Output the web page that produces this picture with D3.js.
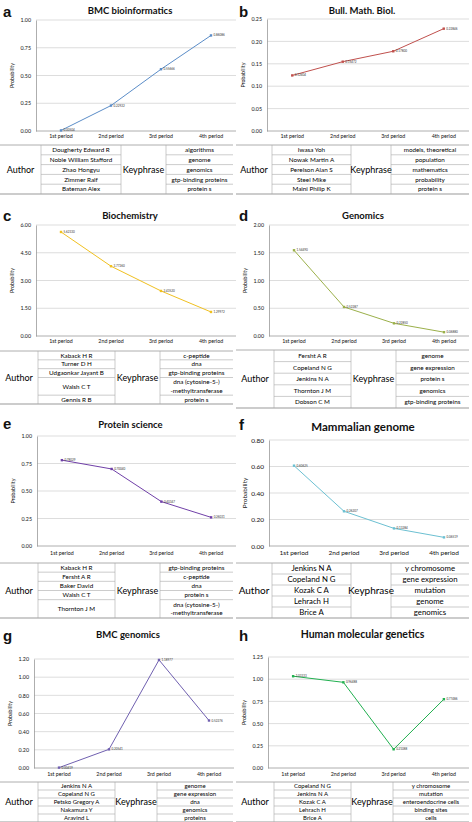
<!DOCTYPE html>
<html><head><meta charset="utf-8">
<script src="https://cdn.jsdelivr.net/npm/d3@7"></script>
<style>body{margin:0;background:#fff}svg{display:block}</style>
</head><body>
<svg id="c" width="472" height="822"></svg>
<script>
const periods = ["1st period","2nd period","3rd period","4th period"];
const titles = ["BMC bioinformatics","Bull. Math. Biol.","Biochemistry","Genomics","Protein science","Mammalian genome","BMC genomics","Human molecular genetics"];
const letters = ["a","b","c","d","e","f","g","h"];

const valuesA = [0.00504, 0.22922, 0.55666, 0.86086];
const valuesB = [0.12404, 0.15472, 0.17800, 0.22846];
const valuesC = [5.62330, 3.77260, 2.43520, 1.29972];
const valuesD = [1.54490, 0.52287, 0.22850, 0.06880];
const valuesE = [0.78029, 0.70040, 0.40347, 0.26031];
const valuesF = [0.60625, 0.26207, 0.13284, 0.06519];
const valuesG = [0.00419, 0.20541, 1.18977, 0.52276];
const valuesH = [1.03333, 0.96488, 0.21088, 0.77486];

const ticksA = [0, 0.25, 0.50, 0.75, 1.00];
const ticksB = [0, 0.05, 0.10, 0.15, 0.20, 0.25];
const ticksC = [0, 1.5, 3.0, 4.5, 6.0];
const ticksD = [0, 0.5, 1.0, 1.5, 2.0];
const ticksE = [0, 0.25, 0.50, 0.75, 1.00];
const ticksF = [0, 0.2, 0.4, 0.6, 0.8];
const ticksG = [0, 0.2, 0.4, 0.6, 0.8, 1.0, 1.2];
const ticksH = [0, 0.25, 0.50, 0.75, 1.00, 1.25];

const authorsA = ["Dougherty Edward R","Noble William Stafford","Zhao Hongyu","Zimmer Ralf","Bateman Alex"];
const keyphrasesA = ["algorithms","genome","genomics","gtp-binding proteins","protein s"];
const authorsB = ["Iwasa Yoh","Nowak Martin A","Perelson Alan S","Steel Mike","Maini Philip K"];
const keyphrasesB = ["models, theoretical","population","mathematics","probability","protein s"];
const authorsC = ["Kaback H R","Turner D H","Udgaonkar Jayant B","Walsh C T","Gennis R B"];
const keyphrasesC = ["c-peptide","dna","gtp-binding proteins","dna (cytosine-5-)\n-methyltransferase","protein s"];
const authorsD = ["Fersht A R","Copeland N G","Jenkins N A","Thornton J M","Dobson C M"];
const keyphrasesD = ["genome","gene expression","protein s","genomics","gtp-binding proteins"];
const authorsE = ["Kaback H R","Fersht A R","Baker David","Walsh C T","Thornton J M"];
const keyphrasesE = ["gtp-binding proteins","c-peptide","dna","protein s","dna (cytosine-5-)\n-methyltransferase"];
const authorsF = ["Jenkins N A","Copeland N G","Kozak C A","Lehrach H","Brice A"];
const keyphrasesF = ["y chromosome","gene expression","mutation","genome","genomics"];
const authorsG = ["Jenkins N A","Copeland N G","Petsko Gregory A","Nakamura Y","Aravind L"];
const keyphrasesG = ["genome","gene expression","dna","genomics","proteins"];
const authorsH = ["Copeland N G","Jenkins N A","Kozak C A","Lehrach H","Brice A"];
const keyphrasesH = ["y chromosome","mutation","enteroendocrine cells","binding sites","cells"];

const panels = [
  {values: valuesA, ticks: ticksA, authors: authorsA, keys: keyphrasesA},
  {values: valuesB, ticks: ticksB, authors: authorsB, keys: keyphrasesB},
  {values: valuesC, ticks: ticksC, authors: authorsC, keys: keyphrasesC},
  {values: valuesD, ticks: ticksD, authors: authorsD, keys: keyphrasesD},
  {values: valuesE, ticks: ticksE, authors: authorsE, keys: keyphrasesE},
  {values: valuesF, ticks: ticksF, authors: authorsF, keys: keyphrasesF},
  {values: valuesG, ticks: ticksG, authors: authorsG, keys: keyphrasesG},
  {values: valuesH, ticks: ticksH, authors: authorsH, keys: keyphrasesH}
];

// layout (absolute page coordinates)
const layout = [
  {x:0,   color:"#5b8dc8", L:36, R:236, top:20,  bot:131, titleY:14,  tSize:9.5, tickSize:5.3, catY:140, tTop:145, tBot:194, cols:[0,41,121,166,233], nSize:6.3, hSize:9,   letterY:17},
  {x:236, color:"#c0504d", L:31, R:233, top:19,  bot:131, titleY:14,  tSize:9.5, tickSize:5.3, catY:140, tTop:145, tBot:194, cols:[0,36,115,155,233], nSize:6.3, hSize:9,   letterY:17},
  {x:0,   color:"#f0c020", L:36, R:236, top:225, bot:336, titleY:219, tSize:9.5, tickSize:5.3, catY:345, tTop:351, tBot:404, cols:[0,38,115,160,233], nSize:6.3, hSize:9,   letterY:221},
  {x:236, color:"#9bb04a", L:33, R:233, top:225, bot:336, titleY:219, tSize:9.5, tickSize:5.3, catY:345, tTop:350, tBot:408, cols:[0,38,115,160,233], nSize:6.3, hSize:9,   letterY:221},
  {x:0,   color:"#7040a8", L:37, R:236, top:436, bot:546, titleY:428, tSize:9.5, tickSize:5.3, catY:557, tTop:563, tBot:618, cols:[0,38,115,160,233], nSize:6.3, hSize:9,   letterY:429},
  {x:236, color:"#6cc0d2", L:33, R:233, top:440, bot:546, titleY:431, tSize:11.5, tickSize:6.5, catY:557, tTop:563, tBot:618, cols:[0,36,115,155,233], nSize:7.8, hSize:10,  letterY:430},
  {x:0,   color:"#7060b0", L:34, R:234, top:659, bot:768, titleY:638, tSize:9.5, tickSize:5.3, catY:778, tTop:782, tBot:822, cols:[0,38,115,157,233], nSize:6,   hSize:9,   letterY:641},
  {x:236, color:"#22b050", L:32, R:233, top:657, bot:768, titleY:638, tSize:10.5, tickSize:5.3, catY:778, tTop:782, tBot:822, cols:[0,38,115,157,233], nSize:6,   hSize:9,   letterY:641}
];

const svg = d3.select("#c");
const FONT = "Lato, 'Open Sans', sans-serif";
const fmt = d3.format(".2f");
const fmtV = d3.format(".5f");

panels.forEach((p, i) => {
  const lo = layout[i];
  const g = svg.append("g").attr("transform", `translate(${lo.x},0)`);

  g.append("text").attr("x", 3).attr("y", lo.letterY)
    .attr("font-family", "Arial, 'Liberation Sans', sans-serif").attr("font-weight", "bold")
    .attr("font-size", 15).attr("fill", "#111").text(letters[i]);

  g.append("text").attr("x", (lo.L + lo.R) / 2 - 6).attr("y", lo.titleY)
    .attr("text-anchor", "middle").attr("font-family", FONT).attr("font-weight", "bold")
    .attr("font-size", lo.tSize).attr("fill", "#111").text(titles[i]);

  const x = d3.scaleBand().domain(periods).range([lo.L, lo.R]);
  const y = d3.scaleLinear().domain([0, d3.max(p.ticks)]).range([lo.bot, lo.top]);

  g.append("g").selectAll("line").data(p.ticks).join("line")
    .attr("x1", lo.L).attr("x2", lo.R)
    .attr("y1", d => y(d)).attr("y2", d => y(d))
    .attr("stroke", d => d === 0 ? "#999" : "#d4d4d4").attr("stroke-width", 0.8);

  const ya = d3.axisLeft(y).tickValues(p.ticks).tickFormat(fmt).tickSize(0).tickPadding(5);
  const yg = g.append("g").attr("transform", `translate(${lo.L},0)`).call(ya);
  yg.select(".domain").attr("stroke", "#999").attr("stroke-width", 0.8);
  yg.selectAll("text").attr("font-family", FONT).attr("font-size", lo.tickSize).attr("fill", "#111");

  const xa = d3.axisBottom(x).tickSize(0).tickPadding(0);
  const xg = g.append("g").attr("transform", `translate(0,${lo.catY - lo.tickSize})`).call(xa);
  xg.select(".domain").remove();
  xg.selectAll("text").attr("font-family", FONT).attr("font-size", lo.tickSize).attr("fill", "#111").attr("dy", "0.71em");

  g.append("text").attr("transform", `translate(${lo.L - 22},${(lo.top + lo.bot) / 2}) rotate(-90)`)
    .attr("text-anchor", "middle").attr("font-family", FONT).attr("font-size", lo.tickSize)
    .attr("fill", "#111").text("Probability");

  const line = d3.line().x((d, j) => x(periods[j]) + x.bandwidth() / 2).y(d => y(d));
  g.append("path").datum(p.values).attr("d", line).attr("fill", "none")
    .attr("stroke", lo.color).attr("stroke-width", 1);

  g.append("g").selectAll("rect").data(p.values).join("rect")
    .attr("x", (d, j) => x(periods[j]) + x.bandwidth() / 2 - 1.2)
    .attr("y", d => y(d) - 1.2).attr("width", 2.4).attr("height", 2.4)
    .attr("fill", lo.color);

  g.append("g").selectAll("text").data(p.values).join("text")
    .attr("x", (d, j) => x(periods[j]) + x.bandwidth() / 2 + 2.5)
    .attr("y", d => y(d) + 1)
    .attr("font-family", FONT).attr("font-size", 3).attr("fill", "#333")
    .text(d => fmtV(d));

  const c = lo.cols;
  const weights = p.keys.map((k, j) => Math.max(k.split("\n").length, p.authors[j].split("\n").length));
  const total = d3.sum(weights);
  const h = lo.tBot - lo.tTop;
  const bounds = [lo.tTop];
  weights.forEach(w => bounds.push(bounds[bounds.length - 1] + h * w / total));

  const tg = g.append("g");
  tg.append("line").attr("x1", c[0]).attr("x2", c[4]).attr("y1", lo.tTop).attr("y2", lo.tTop)
    .attr("stroke", "#999").attr("stroke-width", 0.8);
  tg.append("line").attr("x1", c[0]).attr("x2", c[4]).attr("y1", lo.tBot).attr("y2", lo.tBot)
    .attr("stroke", "#bbb").attr("stroke-width", 1.6);
  [c[1], c[2], c[3]].forEach(cx => {
    tg.append("line").attr("x1", cx).attr("x2", cx).attr("y1", lo.tTop).attr("y2", lo.tBot)
      .attr("stroke", "#aaa").attr("stroke-width", 0.6);
  });
  bounds.slice(1, -1).forEach(by => {
    tg.append("line").attr("x1", c[1]).attr("x2", c[2]).attr("y1", by).attr("y2", by).attr("stroke", "#aaa").attr("stroke-width", 0.6);
    tg.append("line").attr("x1", c[3]).attr("x2", c[4]).attr("y1", by).attr("y2", by).attr("stroke", "#aaa").attr("stroke-width", 0.6);
  });

  const midY = (lo.tTop + lo.tBot) / 2;
  tg.append("text").attr("x", (c[0] + c[1]) / 2).attr("y", midY).attr("dy", "0.35em")
    .attr("text-anchor", "middle").attr("font-family", FONT).attr("font-size", lo.hSize).attr("fill", "#000").text("Author");
  tg.append("text").attr("x", (c[2] + c[3]) / 2).attr("y", midY).attr("dy", "0.35em")
    .attr("text-anchor", "middle").attr("font-family", FONT).attr("font-size", lo.hSize).attr("fill", "#000").text("Keyphrase");

  function cellText(str, cx, y0, y1) {
    const lines = str.split("\n");
    const lh = lo.nSize * 1.3;
    const start = (y0 + y1) / 2 - (lines.length - 1) * lh / 2;
    const t = tg.append("text").attr("text-anchor", "middle").attr("font-family", FONT)
      .attr("font-size", lo.nSize).attr("fill", "#000");
    lines.forEach((ln, k) => {
      t.append("tspan").attr("x", cx).attr("y", start + k * lh).attr("dy", "0.35em").text(ln);
    });
  }
  p.authors.forEach((a, j) => cellText(a, (c[1] + c[2]) / 2, bounds[j], bounds[j + 1]));
  p.keys.forEach((k, j) => cellText(k, (c[3] + c[4]) / 2, bounds[j], bounds[j + 1]));
});
</script>
</body></html>
